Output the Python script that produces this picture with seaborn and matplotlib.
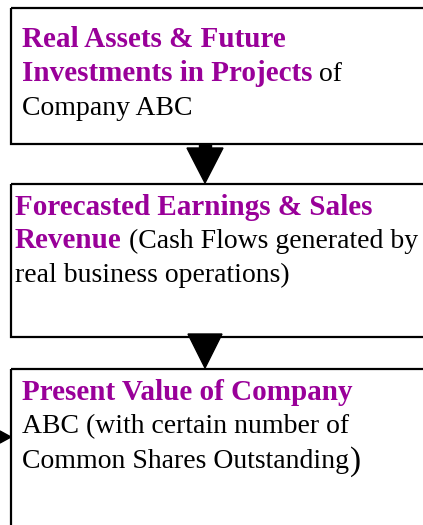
import matplotlib
matplotlib.use("Agg")
import matplotlib.pyplot as plt
import seaborn as sns
from matplotlib.patches import Rectangle, Polygon

# texto de cada caja: (texto, estilo)
box1_lines = [
    [("Real Assets & Future", "bold")],
    [("Investments in Projects", "bold"), ("of", "normal")],
    [("Company ABC", "normal")],
]
box2_lines = [
    [("Forecasted Earnings & Sales", "bold")],
    [("Revenue", "bold"), ("(Cash Flows generated by", "normal")],
    [("real business operations)", "normal")],
]
box3_lines = [
    [("Present Value of Company", "bold")],
    [("ABC (with certain number of", "normal")],
    [("Common Shares Outstanding", "normal"), (")", "big")],
]
boxes = [box1_lines, box2_lines, box3_lines]

# layout en pixeles
box_top = [8, 184, 369]
box_bottom = [144, 337, 545]
text_x = [22, 15, 22]
baselines = [[47, 81, 115], [215, 248, 282], [400, 433, 468]]

purple = "#990099"

sns.set_style("white")
plt.rcParams["font.family"] = ["Liberation Serif", "DejaVu Serif"]

fig = plt.figure(figsize=(4.23, 5.25), dpi=100)
ax = fig.add_axes([0, 0, 1, 1])
ax.set_xlim(0, 423)
ax.set_ylim(525, 0)
ax.axis("off")

renderer = fig.canvas.get_renderer()
fs = 20
fs_bold = 21


def ancho(t):
    return t.get_window_extent(renderer).width


# espacio entre palabras
t1 = ax.text(0, -100, "a a", fontsize=fs)
t2 = ax.text(0, -100, "aa", fontsize=fs)
gap = ancho(t1) - ancho(t2)
t1.remove()
t2.remove()

for i, lines in enumerate(boxes):
    ax.add_patch(Rectangle((11, box_top[i]), 440, box_bottom[i] - box_top[i],
                           fill=False, edgecolor="black", linewidth=1.6, zorder=2))
    for j, line in enumerate(lines):
        x = text_x[i]
        for k, (txt, style) in enumerate(line):
            if k > 0 and style != "big":
                x += gap
            if style == "bold":
                t = ax.text(x, baselines[i][j], txt, fontsize=fs_bold, fontweight="bold",
                            color=purple, va="baseline", ha="left")
            elif style == "big":
                t = ax.text(x + 1, baselines[i][j] + 2, txt, fontsize=fs + 4,
                            color="black", va="baseline", ha="left")
            else:
                t = ax.text(x, baselines[i][j], txt, fontsize=fs,
                            color="black", va="baseline", ha="left")
            x += ancho(t)

# flechas
ax.add_patch(Rectangle((199, 144), 12, 6, color="black", zorder=3))
ax.add_patch(Polygon([(187, 148), (223, 148), (205, 183)], color="black", zorder=3))
ax.add_patch(Polygon([(188, 334), (222, 334), (205, 368)], color="black", zorder=3))
ax.add_patch(Polygon([(0, 431), (0, 443), (11, 437)], color="black", zorder=3))

plt.savefig("out.png", dpi=100)
